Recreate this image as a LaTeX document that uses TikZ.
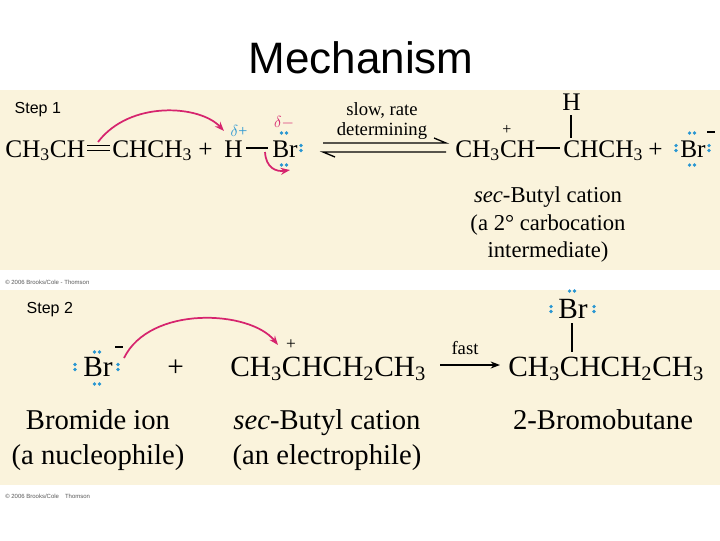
\documentclass[tikz,border=0pt]{standalone}
\usepackage{fontspec}
\usetikzlibrary{arrows.meta}
\setmainfont{Liberation Serif}
\newfontfamily\sansf{Liberation Sans}
\definecolor{bg}{RGB}{250,243,220}
\definecolor{lp}{RGB}{40,150,210}
\definecolor{pk}{RGB}{214,36,110}
\tikzset{
 chem/.style={anchor=base west,inner sep=0,font=\fontsize{19}{19}\selectfont},
 chemb/.style={anchor=base west,inner sep=0,font=\fontsize{22}{22}\selectfont},
 captext/.style={anchor=base,inner sep=0,font=\fontsize{17}{17}\selectfont},
 capb/.style={anchor=base,inner sep=0,font=\fontsize{21.5}{22}\selectfont},
 small/.style={inner sep=0,font=\fontsize{14}{15}\selectfont,align=center},
 bond/.style={line width=0.8pt},
 curved/.style={pk,line width=1.3pt,-{Stealth[length=7pt]}},
 dot/.style={fill=lp,circle,inner sep=0,minimum size=2.8pt},
 copyr/.style={anchor=west,inner sep=0,font=\sansf\fontsize{4.5}{5}\selectfont,gray!70!black}
}
\newcommand{\lpair}[3]{% x y orientation h/v
 \ifx#3h\node[dot] at (#1-2.4,#2) {};\node[dot] at (#1+2.4,#2) {};\else
 \node[dot] at (#1,#2-2.4) {};\node[dot] at (#1,#2+2.4) {};\fi}
\begin{document}
\begin{tikzpicture}[x=0.75pt,y=-0.75pt]
\useasboundingbox (0,0) rectangle (720,540);
\fill[white] (0,0) rectangle (720,540);
\fill[bg] (0,90) rectangle (720,270);
\fill[bg] (0,290) rectangle (720,485);
\node[font=\sansf\fontsize{33}{33}\selectfont] (title) at (361,58) {Mechanism};
\node[anchor=west,font=\sansf\fontsize{12}{12}\selectfont] (s1) at (10,110) {Step 1};
\node[anchor=west,font=\sansf\fontsize{12}{12}\selectfont] (s2) at (22,310) {Step 2};
\node[copyr] (c1) at (5,282) {\copyright\ 2006 Brooks/Cole - Thomson};
\node[copyr] (c2) at (5,496) {\copyright\ 2006 Brooks/Cole\quad Thomson};
% Step 1
\node[chem] (a1) at (5,157) {CH\textsubscript{3}CH};
\draw[bond] (87,145.5) -- (110,145.5) (87,150.5) -- (110,150.5);
\node[chem] (a2) at (112,157) {CHCH\textsubscript{3}};
\node[chem] (p1) at (198,157) {+};
\node[chem] (h1) at (224,157) {H};
\draw[bond] (246,148) -- (268,148);
\node[chem] (br1) at (272,157) {Br};
\lpair{284}{133}{h}\lpair{284}{165}{h}\lpair{301}{148}{v}
\node[lp,anchor=base,font=\fontsize{12}{12}\selectfont] (dp) at (239,136) {$\delta$+};
\node[pk,anchor=base,font=\fontsize{13}{13}\selectfont] (dm) at (284,127) {$\delta-$};
\draw[curved] (98,142) .. controls (130,100) and (200,105) .. (224,131);
\draw[curved] (265,152) .. controls (266,168) and (276,172) .. (290,170);
\node[small] (slow) at (382,121) {slow, rate\\determining};
\coordinate (e1) at (323,143); \coordinate (e2) at (446,143);
\coordinate (e3) at (323,152); \coordinate (e4) at (446,152);
\draw[line width=1pt] (e1) -- (e2) -- ++(-12,-5);
\draw[line width=1pt] (e4) -- (e3) -- ++(12,5);
\node[chem] (b1) at (455,157) {CH\textsubscript{3}CH};
\draw[bond] (536,148) -- (560,148);
\node[chem] (b2) at (563,157) {CHCH\textsubscript{3}};
\node[anchor=base,font=\fontsize{12}{12}\selectfont] (bp) at (507,134) {+};
\node[chem] (bh) at (562,110) {H};
\draw[bond] (571,115) -- (571,138);
\node[chem] (p2) at (648,157) {+};
\node[chem] (br2) at (680,157) {Br};
\lpair{692}{133}{h}\lpair{692}{165}{h}\lpair{676}{148}{v}\lpair{709}{148}{v}
\draw[bond] (707,132) -- (715,132);
\node[captext] (l1) at (548,202) {\textit{sec}-Butyl cation};
\node[captext] (l2) at (548,230) {(a 2° carbocation};
\node[captext] (l3) at (548,257) {intermediate)};
% Step 2
\node[chemb] (br3) at (83,376) {Br};
\lpair{97}{352}{h}\lpair{97}{384}{h}\lpair{75}{367}{v}\lpair{118}{367}{v}
\draw[bond] (115,347) -- (123,347);
\node[chemb] (p3) at (167,376) {+};
\node[chemb] (cat) at (230,376) {CH\textsubscript{3}CHCH\textsubscript{2}CH\textsubscript{3}};
\node[anchor=base,font=\fontsize{13}{13}\selectfont] (cp) at (291,349) {+};
\draw[curved] (124,358) .. controls (150,305) and (250,310) .. (278,345);
\coordinate (f1) at (440,365); \coordinate (f2) at (500,365);
\draw[line width=1pt,-{Stealth[length=7pt]}] (f1) -- (f2);
\node[anchor=base,inner sep=0,font=\fontsize{14}{14}\selectfont] (fast) at (465,354) {fast};
\node[chemb] (prod) at (508,376) {CH\textsubscript{3}CHCH\textsubscript{2}CH\textsubscript{3}};
\node[chemb] (br4) at (558,318) {Br};
\lpair{572}{291}{h}\lpair{551}{309}{v}\lpair{594}{309}{v}
\draw[bond] (572,323) -- (572,352);
\node[capb] (m1) at (98,429) {Bromide ion};
\node[capb] (m2) at (98,464) {(a nucleophile)};
\node[capb] (m3) at (327,429) {\textit{sec}-Butyl cation};
\node[capb] (m4) at (327,464) {(an electrophile)};
\node[capb] (m5) at (603,429) {2-Bromobutane};
\end{tikzpicture}
\end{document}
